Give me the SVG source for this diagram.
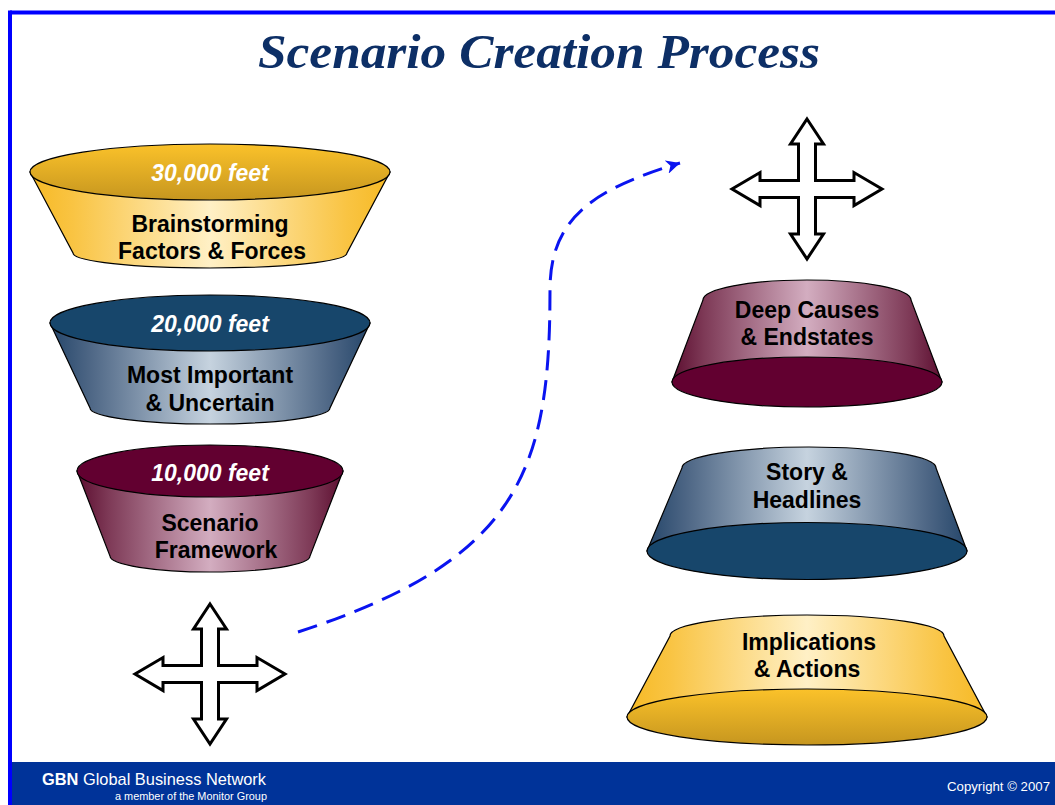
<svg xmlns="http://www.w3.org/2000/svg" width="1055" height="805" viewBox="0 0 1055 805">
<defs>
<style>
.lbl{font-family:"Liberation Sans",Arial,sans-serif;font-weight:bold;font-size:23px;fill:#000;text-anchor:middle}
.alt{font-family:"Liberation Sans",Arial,sans-serif;font-weight:bold;font-style:italic;font-size:23px;fill:#fff;text-anchor:middle}
.edge{stroke:#000;stroke-width:1.2}
.cross{fill:#fff;stroke:#000;stroke-width:3;stroke-linejoin:miter}
</style>
<linearGradient id="goldBody" x1="0" y1="0" x2="1" y2="0">
<stop offset="0" stop-color="#F6B924"/><stop offset="0.12" stop-color="#F9C443"/><stop offset="0.5" stop-color="#FFF0C6"/><stop offset="0.88" stop-color="#F9C443"/><stop offset="1" stop-color="#F6B924"/>
</linearGradient>
<linearGradient id="goldTop" x1="0" y1="0" x2="0" y2="1">
<stop offset="0" stop-color="#FBC22A"/><stop offset="1" stop-color="#C6961F"/>
</linearGradient>
<linearGradient id="navyBody" x1="0" y1="0" x2="1" y2="0">
<stop offset="0" stop-color="#25466A"/><stop offset="0.12" stop-color="#4C6584"/><stop offset="0.5" stop-color="#C6D3DF"/><stop offset="0.88" stop-color="#4C6584"/><stop offset="1" stop-color="#25466A"/>
</linearGradient>
<linearGradient id="maroonBody" x1="0" y1="0" x2="1" y2="0">
<stop offset="0" stop-color="#5C0E30"/><stop offset="0.12" stop-color="#7E3A57"/><stop offset="0.5" stop-color="#D3ADC0"/><stop offset="0.88" stop-color="#7E3A57"/><stop offset="1" stop-color="#5C0E30"/>
</linearGradient>
<path id="crossShape" d="M0,-70 L16.5,-45 L8.5,-45 L8.5,-8.5 L47,-8.5 L47,-16.5 L75,0 L47,16.5 L47,8.5 L8.5,8.5 L8.5,45 L16.5,45 L0,70 L-16.5,45 L-8.5,45 L-8.5,8.5 L-47,8.5 L-47,16.5 L-75,0 L-47,-16.5 L-47,-8.5 L-8.5,-8.5 L-8.5,-45 L-16.5,-45 Z"/>
<marker id="arrow" markerUnits="userSpaceOnUse" markerWidth="16" markerHeight="14" refX="14" refY="7" orient="auto" viewBox="0 0 16 14">
<path d="M0,0 L14,7 L0,14 L4,7 Z" fill="#0A14F0"/>
</marker>
</defs>

<rect x="0" y="0" width="1055" height="805" fill="#fff"/>
<!-- frame -->
<line x1="10" y1="12.5" x2="1055" y2="12.5" stroke="#0000FF" stroke-width="4"/>
<line x1="10" y1="10.5" x2="10" y2="805" stroke="#0000FF" stroke-width="4"/>
<rect x="12" y="762" width="1043" height="43" fill="#003399"/>

<text x="539" y="68" font-family="'Liberation Serif','Times New Roman',serif" font-weight="bold" font-style="italic" font-size="48" fill="#0D2F66" text-anchor="middle" textLength="562" lengthAdjust="spacingAndGlyphs">Scenario Creation Process</text>

<!-- left funnels -->
<g id="funnel-30000">
<path class="edge" fill="url(#goldBody)" d="M30,172 L73,253 A137,15 0 0 0 347,253 L390,172 Z"/>
<ellipse class="edge" cx="210" cy="172" rx="180" ry="28" fill="url(#goldTop)"/>
<text class="alt" x="210" y="181">30,000 feet</text>
<text class="lbl" x="210" y="232">Brainstorming</text>
<text class="lbl" x="212" y="259">Factors &amp; Forces</text>
</g>
<g id="funnel-20000">
<path class="edge" fill="url(#navyBody)" d="M50,323 L90,408 A120,16 0 0 0 330,408 L370,323 Z"/>
<ellipse class="edge" cx="210" cy="323" rx="160" ry="28" fill="#17466B"/>
<text class="alt" x="210" y="332">20,000 feet</text>
<text class="lbl" x="210" y="383">Most Important</text>
<text class="lbl" x="210" y="411">&amp; Uncertain</text>
</g>
<g id="funnel-10000">
<path class="edge" fill="url(#maroonBody)" d="M77,471 L110,556 A100,16 0 0 0 310,556 L343,471 Z"/>
<ellipse class="edge" cx="210" cy="471" rx="133" ry="26" fill="#620030"/>
<text class="alt" x="210" y="481">10,000 feet</text>
<text class="lbl" x="210" y="531">Scenario</text>
<text class="lbl" x="216" y="558">Framework</text>
</g>
<g id="cross-left">
<use href="#crossShape" class="cross" transform="translate(210,674)"/>
</g>

<!-- right shapes -->
<g id="cross-right">
<use href="#crossShape" class="cross" transform="translate(807,189)"/>
</g>
<g id="deep-causes">
<path class="edge" fill="url(#maroonBody)" d="M703,300 A104,20 0 0 1 911,300 L942,382 L672,382 Z"/>
<ellipse class="edge" cx="807" cy="382" rx="135" ry="25" fill="#620030"/>
<text class="lbl" x="807" y="318">Deep Causes</text>
<text class="lbl" x="807" y="345">&amp; Endstates</text>
</g>
<g id="story-headlines">
<path class="edge" fill="url(#navyBody)" d="M682,468 A127,21 0 0 1 936,468 L967,551 L647,551 Z"/>
<ellipse class="edge" cx="807" cy="551" rx="160" ry="28.5" fill="#17466B"/>
<text class="lbl" x="807" y="480">Story &amp;</text>
<text class="lbl" x="807" y="508">Headlines</text>
</g>
<g id="implications-actions">
<path class="edge" fill="url(#goldBody)" d="M670,636 A137,21 0 0 1 944,636 L987,717 L627,717 Z"/>
<ellipse class="edge" cx="807" cy="717" rx="180" ry="28" fill="url(#goldTop)"/>
<text class="lbl" x="809" y="650">Implications</text>
<text class="lbl" x="807" y="677">&amp; Actions</text>
</g>

<!-- connectors -->
<g id="connectors">
<path d="M298,632 C520,560 550,470 550,290 C550,220 590,190 680,163" fill="none" stroke="#0A14F0" stroke-width="3" stroke-dasharray="20 10" marker-end="url(#arrow)"/>
</g>

<!-- footer -->
<text x="42" y="785" font-family="'Liberation Sans',Arial,sans-serif" font-size="17" fill="#fff" textLength="224" lengthAdjust="spacingAndGlyphs"><tspan font-weight="bold">GBN</tspan> Global Business Network</text>
<text x="267" y="800" font-family="'Liberation Sans',Arial,sans-serif" font-size="11" fill="#fff" text-anchor="end" textLength="152" lengthAdjust="spacingAndGlyphs">a member of the Monitor Group</text>
<text x="1050" y="791" font-family="'Liberation Sans',Arial,sans-serif" font-size="13" fill="#fff" text-anchor="end" textLength="103" lengthAdjust="spacingAndGlyphs">Copyright © 2007</text>
</svg>
